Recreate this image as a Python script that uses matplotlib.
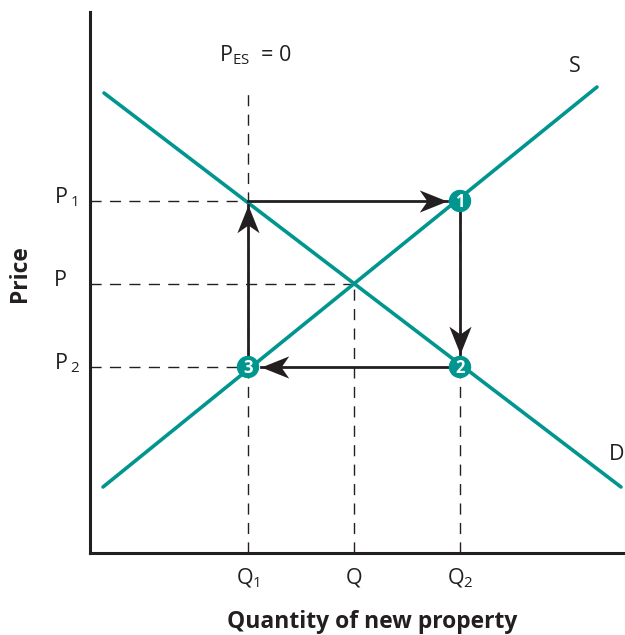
import matplotlib.pyplot as plt
from matplotlib.patches import Circle
from matplotlib.path import Path
from matplotlib.markers import MarkerStyle
from matplotlib.transforms import Affine2D

# chart values (arbitrary units)
q_ticks = [158, 264, 370]
q_labels = ["Q$_1$", "Q", "Q$_2$"]
p_ticks = [352, 269, 186]
p_labels = ["P$\\,{}_1$", "P", "P$\\,{}_2$"]
supply_x = [13, 507]
supply_y = [66, 466]
demand_x = [14, 531]
demand_y = [460, 66]
pes_top = 465
cobweb_points = [(370, 352), (370, 186), (158, 186)]
cobweb_numbers = ["1", "2", "3"]

teal = "#00968f"
ink = "#231f20"
plt.rcParams["font.family"] = ["Open Sans", "DejaVu Sans"]
plt.rcParams["mathtext.fontset"] = "custom"
plt.rcParams["mathtext.rm"] = "Open Sans"
plt.rcParams["mathtext.it"] = "Open Sans"

fig = plt.figure(figsize=(6.25, 6.35), dpi=100)
ax = fig.add_axes([90 / 625, 82 / 635, 535 / 625, 541 / 635])
ax.set_xlim(0, 535)
ax.set_ylim(0, 541)

for side in ["top", "right"]:
    ax.spines[side].set_visible(False)
for side in ["left", "bottom"]:
    ax.spines[side].set_linewidth(2.2)
    ax.spines[side].set_color(ink)
ax.set_xticks([])
ax.set_yticks([])

dash = (0, (8, 6))
# dashed guides
ax.plot([q_ticks[0], q_ticks[0]], [0, pes_top], ls=dash, lw=1, color=ink)
ax.plot([q_ticks[1], q_ticks[1]], [0, p_ticks[1]], ls=dash, lw=1, color=ink)
ax.plot([q_ticks[2], q_ticks[2]], [0, p_ticks[0]], ls=dash, lw=1, color=ink)
ax.plot([0, q_ticks[0]], [p_ticks[0], p_ticks[0]], ls=dash, lw=1, color=ink)
ax.plot([0, q_ticks[1]], [p_ticks[1], p_ticks[1]], ls=dash, lw=1, color=ink)
ax.plot([0, q_ticks[0]], [p_ticks[2], p_ticks[2]], ls=dash, lw=1, color=ink)

# supply and demand
ax.plot(supply_x, supply_y, color=teal, lw=2.6, solid_capstyle="round")
ax.plot(demand_x, demand_y, color=teal, lw=2.6, solid_capstyle="round")

# cobweb arrows with concave (stealth) heads
stealth = Path([(0, 0), (-1, 0.4), (-0.72, 0), (-1, -0.4), (0, 0)],
               [Path.MOVETO, Path.LINETO, Path.LINETO, Path.LINETO,
                Path.CLOSEPOLY])


def arrow(x0, y0, x1, y1, angle):
    ax.plot([x0, x1], [y0, y1], color=ink, lw=2.0, zorder=3)
    m = MarkerStyle(stealth, transform=Affine2D().rotate_deg(angle))
    ax.plot([x1], [y1], marker=m, markersize=40, color=ink, mew=0,
            zorder=4)


q1, q2 = q_ticks[0], q_ticks[2]
p1, p2 = p_ticks[0], p_ticks[2]
arrow(q1, p2, q1, p1 - 4, 90)
arrow(q1, p1, q2 - 13, p1, 0)
arrow(q2, p1, q2, p2 + 13, -90)
arrow(q2, p2, q1 + 13, p2, 180)

# numbered markers
for (x, y), num in zip(cobweb_points, cobweb_numbers):
    ax.add_patch(Circle((x, y), 10.5, color=teal, zorder=5))
    ax.text(x, y - 1, num, color="white", fontsize=12, fontweight="bold",
            ha="center", va="center", zorder=6)

# labels
for q, lab in zip(q_ticks, q_labels):
    ax.text(q, -25, lab, ha="center", va="center", fontsize=15.5,
            clip_on=False, color=ink)
for p, lab in zip(p_ticks, p_labels):
    ax.text(-36, p + 4, lab, ha="left", va="center", fontsize=15.5,
            clip_on=False, color=ink)
ax.text(q_ticks[0] + 7, 498, "P$_{\\mathrm{ES}}$  = 0", ha="center",
        va="center", fontsize=15.5, color=ink)
ax.text(485, 486, "S", ha="center", va="center", fontsize=15.5, color=ink)
ax.text(519, 98, "D", ha="left", va="center", fontsize=15.5, clip_on=False,
        color=ink)

fig.text(372 / 625, 1 - 622 / 635, "Quantity of new property", ha="center",
         va="center", fontsize=16.5, fontweight="bold", color=ink)
fig.text(20 / 625, 1 - 274 / 635, "Price", ha="center", va="center",
         fontsize=16.5, fontweight="bold", rotation=90, color=ink)

fig.savefig("out.png", dpi=100)
